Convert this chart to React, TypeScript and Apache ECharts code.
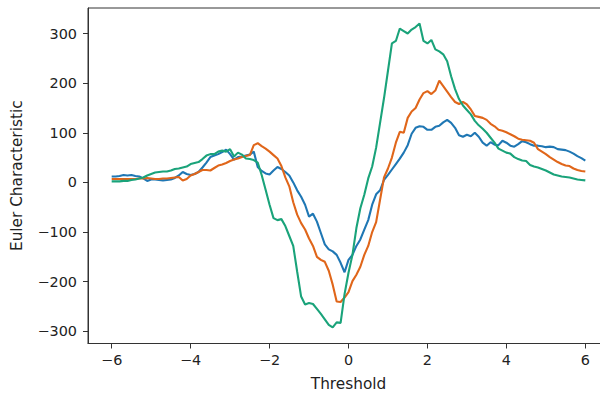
import React, { useEffect, useRef } from "react";
import * as echarts from "echarts";

const thresholds = [
  -6.0, -5.9, -5.8, -5.7, -5.6, -5.5, -5.4, -5.3, -5.2, -5.1,
  -5.0, -4.9, -4.8, -4.7, -4.6, -4.5, -4.4, -4.3, -4.2, -4.1,
  -4.0, -3.9, -3.8, -3.7, -3.6, -3.5, -3.4, -3.3, -3.2, -3.1,
  -3.0, -2.9, -2.8, -2.7, -2.6, -2.5, -2.4, -2.3, -2.2, -2.1,
  -2.0, -1.9, -1.8, -1.7, -1.6, -1.5, -1.4, -1.3, -1.2, -1.1,
  -1.0, -0.9, -0.8, -0.7, -0.6, -0.5, -0.4, -0.3, -0.2, -0.1,
  0.0, 0.1, 0.2, 0.3, 0.4, 0.5, 0.6, 0.7, 0.8, 0.9,
  1.0, 1.1, 1.2, 1.3, 1.4, 1.5, 1.6, 1.7, 1.8, 1.9,
  2.0, 2.1, 2.2, 2.3, 2.4, 2.5, 2.6, 2.7, 2.8, 2.9,
  3.0, 3.1, 3.2, 3.3, 3.4, 3.5, 3.6, 3.7, 3.8, 3.9,
  4.0, 4.1, 4.2, 4.3, 4.4, 4.5, 4.6, 4.7, 4.8, 4.9,
  5.0, 5.1, 5.2, 5.3, 5.4, 5.5, 5.6, 5.7, 5.8, 5.9,
  6.0,
];

const blueValues = [
  12, 12, 13, 15, 14, 15, 13, 12, 8, 3,
  6, 6, 5, 4, 5, 6, 9, 14, 21, 17,
  15, 17, 21, 30, 40, 51, 54, 57, 61, 66,
  57, 46, 51, 52, 54, 56, 62, 31, 23, 18,
  16, 24, 31, 27, 21, 14, 0, -16, -29, -45,
  -69, -63, -79, -102, -125, -135, -139, -146, -162, -181,
  -156, -146, -128, -115, -95, -76, -45, -24, -16, 5,
  15, 26, 37, 48, 60, 75, 98, 110, 113, 112,
  106, 106, 112, 114, 121, 126, 120, 110, 95, 92,
  96, 93, 100, 92, 80, 74, 81, 76, 75, 84,
  80, 74, 72, 77, 83, 81, 77, 74, 74, 73,
  71, 72, 71, 67, 66, 65, 62, 58, 53, 49,
  44,
];

const orangeValues = [
  7, 7, 7, 7, 7, 7, 7, 8, 8, 9,
  8, 7, 7, 8, 8, 9, 10, 11, 4, 7,
  14, 17, 21, 25, 25, 24, 29, 34, 36, 39,
  43, 46, 48, 51, 53, 55, 75, 79, 73, 68,
  62, 55, 48, 33, 10, -8, -40, -65, -82, -95,
  -113, -128, -150, -156, -160, -178, -206, -240, -241, -232,
  -221, -199, -186, -170, -146, -128, -100, -80, -35, 10,
  28, 50, 80, 102, 100, 130, 143, 150, 167, 180,
  184, 178, 185, 205, 194, 183, 172, 162, 158, 162,
  157, 147, 134, 132, 130, 126, 118, 113, 106, 104,
  101, 97, 93, 88, 86, 85, 84, 80, 67, 62,
  57, 51, 46, 41, 37, 34, 33, 28, 25, 23,
  22,
];

const greenValues = [
  2, 2, 2, 3, 3, 5, 6, 8, 10, 14,
  17, 20, 21, 22, 22, 24, 27, 28, 30, 32,
  37, 39, 41, 47, 54, 57, 57, 62, 64, 62,
  67, 52, 60, 56, 48, 47, 45, 40, 15, -15,
  -45, -72, -76, -74, -88, -108, -128, -180, -230, -246,
  -243, -245, -255, -265, -276, -287, -292, -282, -283, -225,
  -182, -146, -92, -52, -25, 8, 32, 70, 120, 170,
  225, 280, 285, 310, 305, 300, 308, 313, 320, 285,
  280, 287, 268, 264, 258, 244, 214, 188, 168, 155,
  146, 137, 124, 115, 108, 100, 90, 80, 68, 64,
  60, 58, 51, 47, 44, 43, 35, 32, 30, 27,
  24, 20, 16, 14, 12, 11, 10, 8, 6, 5,
  4,
];

const xTicks = [-6, -4, -2, 0, 2, 4, 6];
const yTicks = [-300, -200, -100, 0, 100, 200, 300];

const seriesNames = ["blue", "orange", "green"];
const seriesColors = ["#1f77b4", "#e0661a", "#1aa37a"];

const FONT = "DejaVu Sans";
const TEXT = "#222";
const AXIS = "#333";
const TICK_SIZE = 14.4;
const NAME_SIZE = 15.3;

const fmt = (v: number) => String(v).replace("-", "\u2212");

export default function App() {
  const ref = useRef<HTMLDivElement>(null);
  useEffect(() => {
    if (!ref.current) return;
    const chart = echarts.init(ref.current, undefined, { renderer: "svg" });
    const allValues = [blueValues, orangeValues, greenValues];
    chart.setOption({
      animation: false,
      backgroundColor: "#fff",
      grid: {
        left: 88,
        top: 8,
        right: 11,
        bottom: 50,
        show: true,
        borderColor: AXIS,
        borderWidth: 1,
        backgroundColor: "transparent",
      },
      xAxis: {
        type: "value",
        min: -6.6,
        max: 6.6,
        name: "Threshold",
        nameLocation: "middle",
        nameGap: 40,
        nameTextStyle: { fontFamily: FONT, fontSize: NAME_SIZE, color: TEXT, verticalAlign: "middle" },
        splitLine: { show: false },
        axisLine: { show: true, onZero: false, lineStyle: { color: AXIS, width: 1 } },
        axisTick: { show: true, length: 5, lineStyle: { color: AXIS, width: 1 }, customValues: xTicks },
        axisLabel: {
          fontFamily: FONT,
          fontSize: TICK_SIZE,
          color: TEXT,
          margin: 9,
          customValues: xTicks,
          formatter: (v: number) => fmt(v),
        },
      },
      yAxis: {
        type: "value",
        min: -324.6,
        max: 351.4,
        name: "Euler Characteristic",
        nameLocation: "middle",
        nameGap: 71,
        nameRotate: 90,
        nameTextStyle: { fontFamily: FONT, fontSize: NAME_SIZE, color: TEXT, verticalAlign: "middle" },
        splitLine: { show: false },
        axisLine: { show: true, onZero: false, lineStyle: { color: AXIS, width: 1 } },
        axisTick: { show: true, length: 5, lineStyle: { color: AXIS, width: 1 }, customValues: yTicks },
        axisLabel: {
          fontFamily: FONT,
          fontSize: TICK_SIZE,
          color: TEXT,
          margin: 11,
          customValues: yTicks,
          formatter: (v: number) => fmt(v),
        },
      },
      series: allValues.map((vals, i) => ({
        name: seriesNames[i],
        type: "line",
        showSymbol: false,
        symbol: "none",
        data: thresholds.map((t, j) => [t, vals[j]]),
        lineStyle: { color: seriesColors[i], width: 2.1 },
        itemStyle: { color: seriesColors[i] },
        emphasis: { disabled: true },
      })),
    });
    return () => chart.dispose();
  }, []);
  return (
    <div style={{ position: "absolute", left: 0, top: 0, width: 600, height: 396, overflow: "hidden" }}>
      <div ref={ref} style={{ width: 620, height: 396 }} />
    </div>
  );
}
